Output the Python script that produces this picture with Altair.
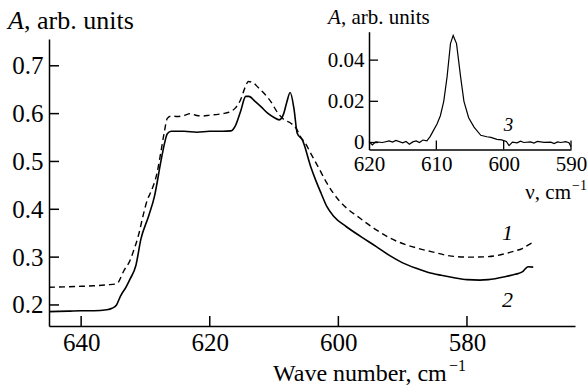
import altair as alt
import pandas as pd

SERIF = "Liberation Serif"

# ---- curve 1 (dashed) ----
wn1 = [645, 642, 640, 638, 636, 634.5, 633.3, 632.5, 631.9, 631, 630.4, 629.7, 629.2, 628.2,
       627.6, 627.1, 626.6, 626, 625, 624, 623, 622, 621, 620, 619, 618, 617, 616, 615.2,
       614.5, 614, 613.3, 612.5, 611.6, 610.5, 609.5, 608.5, 607.4, 606.5, 605.9, 605, 604.3,
       603, 601.8, 600, 598.5, 597.1, 595.5, 594.1, 592, 589.5, 587.5, 585.4, 582.4, 579.6,
       576.7, 573.8, 572.5, 571.4, 570.5, 569.7]
a1 = [0.237, 0.238, 0.239, 0.240, 0.242, 0.244, 0.273, 0.290, 0.311, 0.350, 0.385, 0.420, 0.435,
      0.476, 0.520, 0.559, 0.590, 0.595, 0.594, 0.596, 0.600, 0.596, 0.595, 0.597, 0.598, 0.600,
      0.603, 0.612, 0.629, 0.655, 0.667, 0.665, 0.655, 0.643, 0.625, 0.603, 0.588, 0.580, 0.568,
      0.552, 0.535, 0.517, 0.485, 0.455, 0.420, 0.400, 0.386, 0.370, 0.357, 0.340, 0.326, 0.318,
      0.311, 0.302, 0.300, 0.301, 0.308, 0.313, 0.318, 0.325, 0.331]

# ---- curve 2 (solid) ----
wn2 = [645, 642, 640, 638, 636, 635.2, 634.5, 633.9, 633, 632.4, 631.5, 630.7, 629.5, 628.6,
       627.6, 627.0, 626.6, 626, 624, 622, 620, 618, 616.7, 616, 615.2, 614.4, 613.9, 613, 612,
       611, 610, 609.2, 608.5, 608, 607.5, 606.9, 606.4, 605.6, 604.3, 603.5, 602.7, 601.8,
       600.7, 598.8, 596.5, 594.1, 592, 590, 588, 586, 584, 582, 580, 578, 576.7, 573.8, 572.5,
       571.4, 570.5, 569.7]
a2 = [0.186, 0.187, 0.188, 0.188, 0.190, 0.193, 0.200, 0.218, 0.238, 0.254, 0.282, 0.338, 0.386,
      0.427, 0.500, 0.540, 0.558, 0.563, 0.563, 0.561, 0.563, 0.563, 0.564, 0.575, 0.605, 0.636,
      0.636, 0.626, 0.614, 0.601, 0.592, 0.587, 0.600, 0.625, 0.644, 0.610, 0.559, 0.545, 0.489,
      0.460, 0.434, 0.406, 0.385, 0.364, 0.343, 0.322, 0.303, 0.288, 0.277, 0.268, 0.262, 0.257,
      0.253, 0.252, 0.253, 0.260, 0.264, 0.269, 0.280, 0.279]

# ---- curve 3 (inset) ----
wn3 = [620, 619.5, 619, 618, 617, 616.5, 616, 615, 614.5, 614, 613.5, 613, 612.5, 612, 611.4,
       610.9, 610.4, 609.9, 609.4, 608.9, 608.4, 607.9, 607.5, 607.0, 606.4, 605.9, 605.2, 604.4,
       603.4, 602.5, 601.9, 601, 600.3, 599.6, 599.2, 598.7, 598, 597.5, 597, 596, 595.5, 595,
       594, 593, 592.5, 592, 591.5, 590.8, 590.3, 590]
a3 = [0.0005, -0.0012, 0.0003, 0.0, 0.0008, 0.0002, 0.001, -0.0002, 0.0005, -0.0008, 0.0003,
      0.0008, 0.0, 0.0012, 0.0008, 0.003, 0.006, 0.009, 0.013, 0.02, 0.032, 0.048, 0.052, 0.048,
      0.032, 0.02, 0.012, 0.0075, 0.0035, 0.0028, 0.0025, 0.0015, 0.0013, 0.0005, -0.0015, 0.0002,
      -0.0002, 0.0006, 0.0, 0.0003, -0.0003, 0.0005, 0.0001, 0.0002, -0.0005, 0.0003, 0.0, 0.0004,
      -0.0001, -0.002]

main_xticks = [640, 620, 600, 580]
main_yticks = [0.2, 0.3, 0.4, 0.5, 0.6, 0.7]
inset_xticks = [620, 610, 600, 590]
inset_yticks = [0, 0.02, 0.04]

curve_labels = ["1", "2"]
curve_label_x = [573.7, 573.7]
curve_label_y = [0.351, 0.21]
inset_label = ["3"]
inset_label_x = [599.3]
inset_label_y = [0.0085]

W, H = 526, 287
PAD_L, PAD_T = 49, 39

mxs = alt.Scale(domain=[645, 563.2], nice=False, zero=False)
mys = alt.Scale(domain=[0.156, 0.756], nice=False, zero=False)
ixs = alt.Scale(domain=[620, 590], range=[320, 522], nice=False, zero=False)
iys = alt.Scale(domain=[-0.0034, 0.0538], range=[110.5, -7.3], nice=False, zero=False)

common = dict(ticks=False, grid=False, domain=True, domainColor="black", domainWidth=1.5,
              labelFont=SERIF, labelColor="black", labelFlush=False, labelOverlap=False,
              title=None)
mxa = alt.Axis(orient="bottom", values=main_xticks, format="d", labelFontSize=25,
               labelPadding=4, **common)
mya = alt.Axis(orient="left", values=main_yticks, format=".1f", labelFontSize=25,
               labelPadding=6, **common)
ixa = alt.Axis(orient="bottom", offset=-(H - 110.5), values=inset_xticks, format="d",
               labelFontSize=21, labelPadding=4, **common)
iya = alt.Axis(orient="left", offset=-320, values=inset_yticks, format=".2~f",
               labelFontSize=21, labelPadding=5, **common)

df1 = pd.DataFrame({"x": wn1, "y": a1})
df2 = pd.DataFrame({"x": wn2, "y": a2})
df3 = pd.DataFrame({"x": wn3, "y": a3})

line1 = alt.Chart(df1).mark_line(color="black", strokeWidth=1.4, strokeDash=[6, 4],
                                 interpolate="monotone").encode(
    x=alt.X("x:Q", scale=mxs, axis=mxa), y=alt.Y("y:Q", scale=mys, axis=mya))
line2 = alt.Chart(df2).mark_line(color="black", strokeWidth=1.6,
                                 interpolate="monotone").encode(
    x=alt.X("x:Q", scale=mxs, axis=mxa), y=alt.Y("y:Q", scale=mys, axis=mya))

mxt = alt.Chart(pd.DataFrame({"x": main_xticks})).mark_rule(color="black", strokeWidth=1.5).encode(
    x=alt.X("x:Q", scale=mxs, axis=mxa), y=alt.value(H), y2=alt.value(H - 10))
myt = alt.Chart(pd.DataFrame({"y": main_yticks})).mark_rule(color="black", strokeWidth=1.5).encode(
    y=alt.Y("y:Q", scale=mys, axis=mya), x=alt.value(0), x2=alt.value(10))

clab = alt.Chart(pd.DataFrame({"x": curve_label_x, "y": curve_label_y, "t": curve_labels})).mark_text(
    font=SERIF, fontSize=22, fontStyle="italic", color="black", align="center", baseline="middle").encode(
    x=alt.X("x:Q", scale=mxs, axis=mxa), y=alt.Y("y:Q", scale=mys, axis=mya), text="t:N")


def txt(s, x, y, size, italic=False, align="left"):
    return alt.Chart(pd.DataFrame({"t": [s]})).mark_text(
        font=SERIF, fontSize=size, fontStyle="italic" if italic else "normal", color="black",
        align=align, baseline="alphabetic").encode(
        text="t:N", x=alt.value(x), y=alt.value(y))


titles = [
    txt("A", 8 - PAD_L, 29 - PAD_T, 26, italic=True),
    txt(", arb. units", 24 - PAD_L, 29 - PAD_T, 26),
    txt("Wave number, cm", 273 - PAD_L, 381 - PAD_T, 24),
    txt("\u22121", 449 - PAD_L, 371 - PAD_T, 16),
    txt("A", 328 - PAD_L, 24 - PAD_T, 21, italic=True),
    txt(", arb. units", 341 - PAD_L, 24 - PAD_T, 21),
    txt("\u03bd, cm", 571 - PAD_L, 199 - PAD_T, 21, align="right"),
    txt("\u22121", 572 - PAD_L, 190 - PAD_T, 14),
]

main = alt.layer(line1, line2, mxt, myt, clab, *titles)

line3 = alt.Chart(df3).mark_line(color="black", strokeWidth=1.2).encode(
    x=alt.X("x:Q", scale=ixs, axis=ixa), y=alt.Y("y:Q", scale=iys, axis=iya))
ixt = alt.Chart(pd.DataFrame({"x": inset_xticks[1:]})).mark_rule(color="black", strokeWidth=1.3).encode(
    x=alt.X("x:Q", scale=ixs, axis=ixa), y=alt.value(110.5), y2=alt.value(101.5))
iyt = alt.Chart(pd.DataFrame({"y": inset_yticks})).mark_rule(color="black", strokeWidth=1.3).encode(
    y=alt.Y("y:Q", scale=iys, axis=iya), x=alt.value(320), x2=alt.value(329))
ilab = alt.Chart(pd.DataFrame({"x": inset_label_x, "y": inset_label_y, "t": inset_label})).mark_text(
    font=SERIF, fontSize=19, fontStyle="italic", color="black", align="center", baseline="middle").encode(
    x=alt.X("x:Q", scale=ixs, axis=ixa), y=alt.Y("y:Q", scale=iys, axis=iya), text="t:N")

inset = alt.layer(line3, ixt, iyt, ilab)

chart = alt.layer(main, inset).resolve_scale(
    x="independent", y="independent").resolve_axis(
    x="independent", y="independent").properties(
    width=W, height=H,
    padding={"left": PAD_L, "top": PAD_T, "right": 587 - PAD_L - W, "bottom": 387 - PAD_T - H},
    autosize=alt.AutoSizeParams(type="none"),
    background="white",
).configure_view(stroke=None)

chart.save("out.html", embed_options={"renderer": "svg", "actions": False})
